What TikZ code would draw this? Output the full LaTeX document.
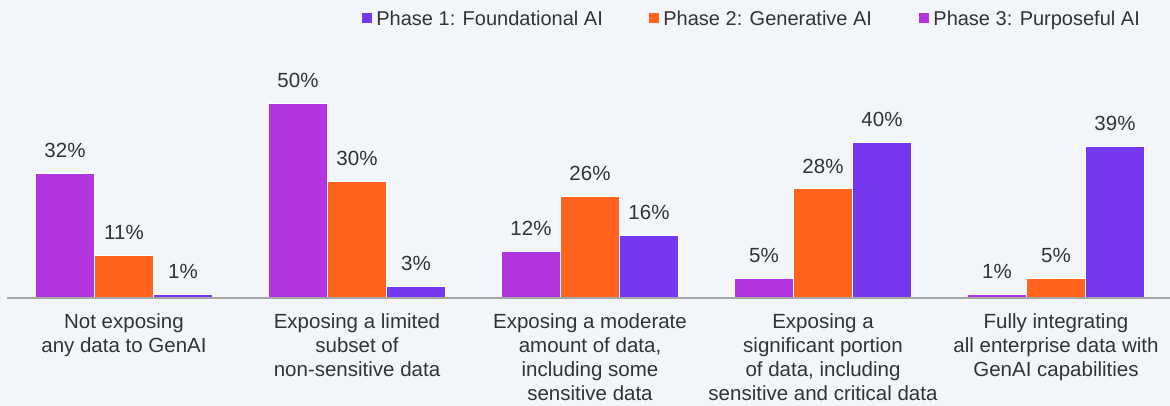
\documentclass[tikz,border=0pt]{standalone}
\usepackage{fontspec}
\setmainfont{Liberation Sans}
\usetikzlibrary{positioning}

\definecolor{bgcol}{HTML}{F2F5F9}
\definecolor{phaseone}{HTML}{7538EE}
\definecolor{phasetwo}{HTML}{FF631D}
\definecolor{phasethree}{HTML}{B335DF}
\definecolor{txtcol}{HTML}{333333}
\definecolor{axiscol}{HTML}{A6A6A6}

\tikzset{
    bar/.style={draw=white, line width=0.6pt},
    val/.style={anchor=base, inner sep=0pt, text=txtcol},
    cat/.style={anchor=north, inner sep=0pt, align=center, text=txtcol},
    legsq/.style={minimum size=10pt, inner sep=0pt},
    legtxt/.style={inner sep=0pt, text=txtcol, font=\fontsize{20}{24}\selectfont,
        text height=14.4pt, text depth=0pt},
}

\begin{document}
\begin{tikzpicture}[x=1pt, y=1pt, font=\fontsize{20.5}{24}\selectfont]
    \fill[bgcol] (0,0) rectangle (1170,406);
    \useasboundingbox (0,0) rectangle (1170,406);

    % bars with their values
    \foreach \a/\b/\c [count=\g] in {32/11/1, 50/30/3, 12/26/16, 5/28/40, 1/5/39} {
        \pgfmathsetmacro{\xc}{124+233*(\g-1)}
        \draw[bar, fill=phasethree] (\xc-88.25,108) rectangle (\xc-29.75,108+3.9*\a);
        \draw[bar, fill=phasetwo] (\xc-29.25,108) rectangle (\xc+29.25,108+3.9*\b);
        \draw[bar, fill=phaseone] (\xc+29.75,108) rectangle (\xc+88.25,108+3.9*\c);
        \node[val] (va\g) at (\xc-59,108+3.9*\a+15.6) {\a\%};
        \node[val] (vb\g) at (\xc,108+3.9*\b+15.6) {\b\%};
        \node[val] (vc\g) at (\xc+59,108+3.9*\c+15.6) {\c\%};
    }
    \draw[axiscol, line width=1.5pt] (7,108) -- (1170,108);

    % categories
    \foreach \txt [count=\g] in {
        {Not exposing\\any data to GenAI},
        {Exposing a limited\\subset of\\non-sensitive data},
        {Exposing a moderate\\amount of data,\\including some\\sensitive data},
        {Exposing a\\significant portion\\of data, including\\sensitive and critical data},
        {Fully integrating\\all enterprise data with\\GenAI capabilities}} {
        \node[cat] (cat\g) at ({124+233*(\g-1)},92.5) {\txt};
    }

    % legend
    \node[legsq, fill=phaseone] (sqone) at (367,388) {};
    \node[legtxt, right=4pt of sqone] (legone) {Phase 1: Foundational AI};
    \node[legsq, fill=phasetwo] (sqtwo) at (654,388) {};
    \node[legtxt, right=4pt of sqtwo] (legtwo) {Phase 2: Generative AI};
    \node[legsq, fill=phasethree] (sqthree) at (924,388) {};
    \node[legtxt, right=4pt of sqthree] (legthree) {Phase 3: Purposeful AI};
\end{tikzpicture}
\end{document}
